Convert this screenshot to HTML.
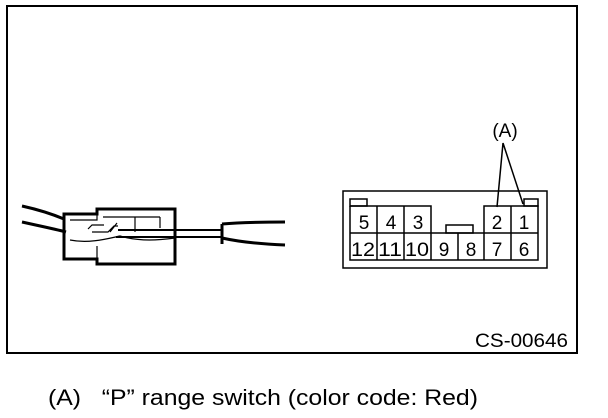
<!DOCTYPE html>
<html><head><style>
body{margin:0;background:#fff;}
svg{display:block}
text{font-family:"Liberation Sans",sans-serif;fill:#000}
</style></head><body>
<svg width="608" height="418" viewBox="0 0 608 418">
<rect x="7" y="6" width="570" height="347" fill="none" stroke="#000" stroke-width="2"/>
<g fill="none" stroke="#000" stroke-width="1.5">
<rect x="343" y="191" width="204" height="77"/>
<rect x="350" y="199" width="17" height="7"/>
<rect x="524" y="199" width="14" height="7"/>
<rect x="446" y="225" width="27" height="8"/>
<path d="M350 206H431V233M350 206V260H538V206H484V233M377 206V260M404 206V260M431 233V260M458 233V260M484 233V260M511 206V260M350 233H538"/>
<path d="M503 143L497 207M503 143L523 204"/>
</g>
<g font-size="19" text-anchor="middle">
<text x="364" y="229">5</text><text x="391" y="229">4</text><text x="418" y="229">3</text>
<text x="497" y="229">2</text><text x="524" y="229">1</text>
<text x="363" y="256" textLength="24" lengthAdjust="spacingAndGlyphs">12</text><text x="390" y="256" textLength="24" lengthAdjust="spacingAndGlyphs">11</text><text x="417" y="256" textLength="24" lengthAdjust="spacingAndGlyphs">10</text>
<text x="444" y="256">9</text><text x="471" y="256">8</text><text x="497" y="256">7</text><text x="524" y="256">6</text>
<text x="505" y="137">(A)</text>
</g>
<g fill="none" stroke="#000">
<path d="M22 206C40 210 52 214 64 219M22 222C40 226 55 229 66 232" stroke-width="3"/>
<path d="M64 214H97V209H175V264H97V259H64Z" stroke-width="3"/>
<path d="M97 259V246M70 220H97V214M103 217H160M135 217V232M160 217V228M70 240C90 244 110 238 120 236C140 242 160 240 175 238" stroke-width="1.2"/>
<path d="M88 229L92 225H104M92 232H108L114 226H118M110 232L117 223" stroke-width="1.2"/>
<path d="M118 230H222M116 237H222" stroke-width="2"/>
<path d="M222 224V244M222 224C245 222 265 222 285 222M222 238C240 242 260 244 285 245" stroke-width="3"/>
</g>
<text x="475" y="347" font-size="19" textLength="93" lengthAdjust="spacingAndGlyphs">CS-00646</text>
<text x="48" y="405" font-size="22" textLength="430" lengthAdjust="spacingAndGlyphs">(A)&#160;&#160;&#160;“P” range switch (color code: Red)</text>
</svg>
</body></html>
